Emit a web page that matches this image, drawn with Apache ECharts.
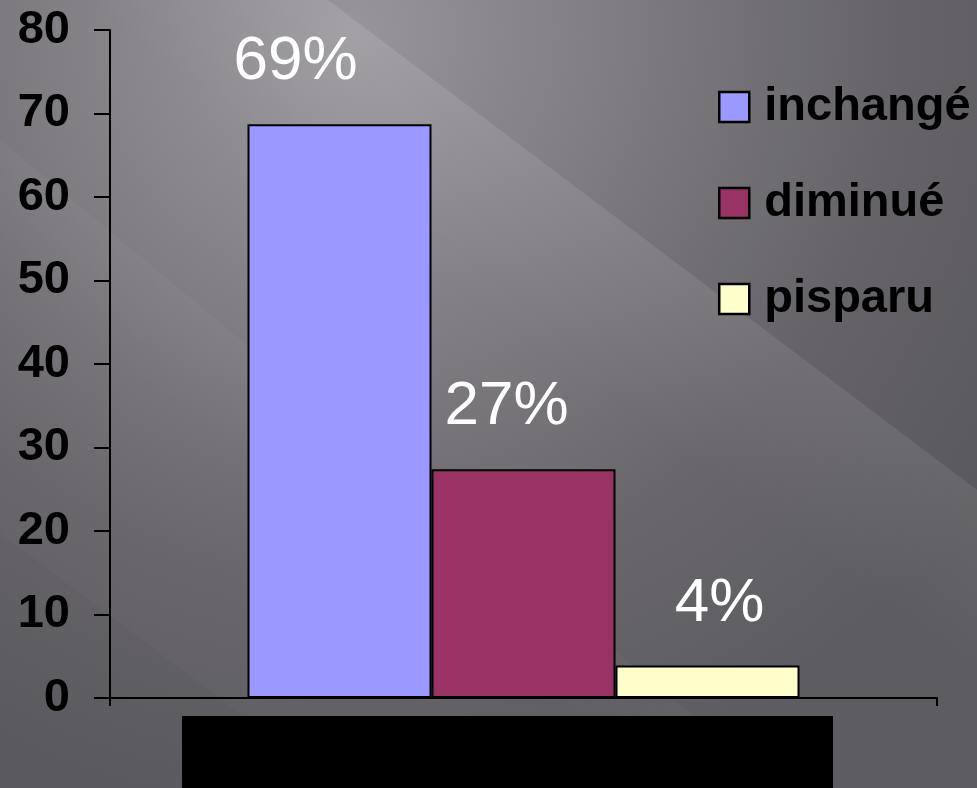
<!DOCTYPE html>
<html>
<head>
<meta charset="utf-8">
<title>Évolution</title>
<script src="https://cdn.jsdelivr.net/npm/echarts@6/dist/echarts.min.js"></script>
<style>
  html, body { margin: 0; padding: 0; background: #6e6c71; }
  #chart { width: 977px; height: 788px; }
</style>
</head>
<body>
<div id="chart"></div>
<script>
// Chart data
var categories = [''];
var seriesNames = ['inchangé', 'diminué', 'pisparu'];
var inchangeValues = [68.7];
var diminueValues = [27.4];
var pisparuValues = [3.9];
var yTicks = { min: 0, max: 80, interval: 10 };

var barColors = ['#9999ff', '#993366', '#ffffcc'];
var FONT = '"Liberation Sans", Arial, sans-serif';

var chart = echarts.init(document.getElementById('chart'), null, { renderer: 'canvas' });

function pctLabel(dx) {
  return {
    show: true,
    position: 'top',
    distance: 31,
    offset: [dx, 0],
    color: '#ffffff',
    fontFamily: FONT,
    fontSize: 62,
    fontWeight: 'normal',
    formatter: function (p) { return Math.round(p.value) + '%'; }
  };
}

function barSeries(name, values, color, dx) {
  return {
    name: name,
    type: 'bar',
    data: values,
    barWidth: 184,
    barGap: '0%',
    itemStyle: { color: color, borderColor: '#000000', borderWidth: 2 },
    label: pctLabel(dx),
    emphasis: { disabled: true }
  };
}

// soft diagonal ray: fades out away from its upper edge
function ray(points, x1, y1, x2, y2, alpha) {
  return {
    type: 'polygon', z: -99, silent: true,
    shape: { points: points },
    style: {
      fill: new echarts.graphic.LinearGradient(x1, y1, x2, y2, [
        { offset: 0, color: 'rgba(255,255,255,' + alpha + ')' },
        { offset: 1, color: 'rgba(255,255,255,0)' }
      ], true)
    }
  };
}

var option = {
  animation: false,
  graphic: [
    // slide backdrop: soft grey with diagonal light rays
    {
      type: 'rect', z: -100, silent: true,
      shape: { x: 0, y: 0, width: 977, height: 788 },
      style: {
        fill: new echarts.graphic.RadialGradient(0.36, 0.04, 1.0, [
          { offset: 0, color: '#9e9ba1' },
          { offset: 0.35, color: '#838086' },
          { offset: 0.7, color: '#69676c' },
          { offset: 1, color: '#5d5c60' }
        ])
      }
    },
    {
      type: 'polygon', z: -99, silent: true,
      shape: { points: [[328, 0], [977, 0], [977, 490]] },
      style: { fill: 'rgba(0,0,0,0.035)' }
    },
    ray([[328, 0], [977, 490], [977, 700], [50, 0]], 650, 245, 560, 365, 0.06),
    ray([[0, 140], [0, 360], [560, 788], [780, 788]], 200, 290, 130, 380, 0.035),
    {
      type: 'polygon', z: -99, silent: true,
      shape: { points: [[0, 533], [340, 788], [0, 788]] },
      style: { fill: 'rgba(0,0,0,0.025)' }
    },
    // block below the axis
    {
      type: 'rect', z: 50, silent: true,
      shape: { x: 182, y: 716, width: 651, height: 72 },
      style: { fill: '#000000' }
    }
  ],
  legend: {
    orient: 'vertical',
    left: 718,
    top: 78,
    padding: 0,
    itemWidth: 30,
    itemHeight: 30,
    itemGap: 38,
    icon: 'rect',
    selectedMode: false,
    itemStyle: { borderColor: '#000000', borderWidth: 2.5 },
    textStyle: {
      color: '#000000',
      fontFamily: FONT,
      fontWeight: 'bold',
      fontSize: 47,
      lineHeight: 50,
      padding: [8, 0, 0, 10]
    },
    data: seriesNames
  },
  grid: { left: 110, right: 40, top: 30, bottom: 90, containLabel: false },
  xAxis: {
    type: 'category',
    data: categories,
    axisLine: { show: true, lineStyle: { color: '#000000', width: 2 } },
    axisTick: { show: true, length: 8, lineStyle: { color: '#000000', width: 2 } },
    axisLabel: { show: false },
    splitLine: { show: false }
  },
  yAxis: {
    type: 'value',
    min: yTicks.min,
    max: yTicks.max,
    interval: yTicks.interval,
    axisLine: { show: true, lineStyle: { color: '#000000', width: 2 } },
    axisTick: { show: true, length: 16, lineStyle: { color: '#000000', width: 2 } },
    axisLabel: {
      margin: 40,
      color: '#000000',
      fontFamily: FONT,
      fontWeight: 'bold',
      fontSize: 47
    },
    splitLine: { show: false }
  },
  series: [
    barSeries(seriesNames[0], inchangeValues, barColors[0], -44),
    barSeries(seriesNames[1], diminueValues, barColors[1], -17),
    barSeries(seriesNames[2], pisparuValues, barColors[2], 12)
  ]
};

chart.setOption(option);
</script>
</body>
</html>
